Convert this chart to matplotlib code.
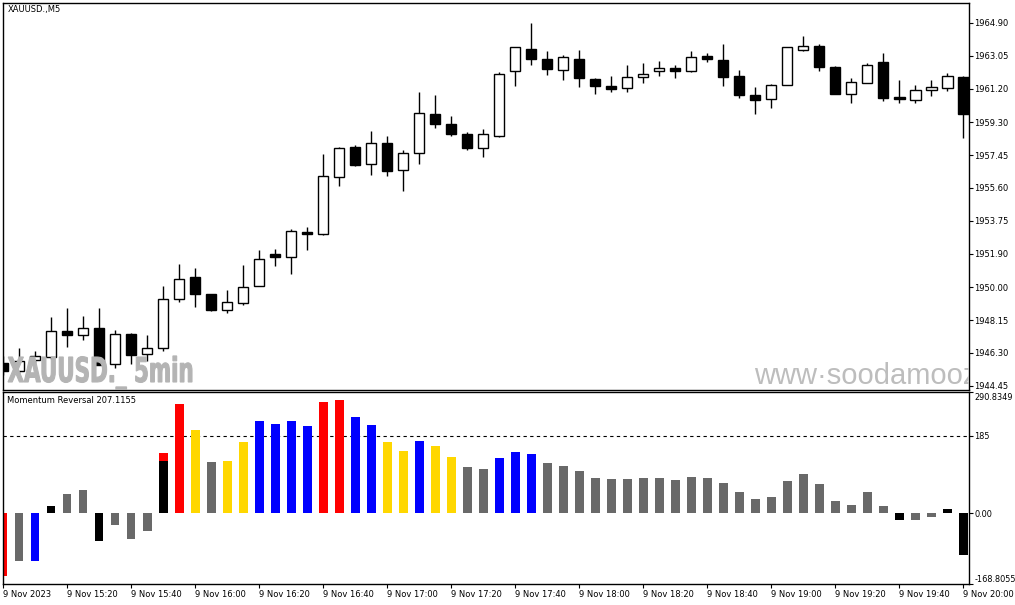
import numpy as np
import matplotlib
matplotlib.use("Agg")
import matplotlib.pyplot as plt
from matplotlib.textpath import TextPath
from matplotlib.patches import PathPatch
from matplotlib.font_manager import FontProperties
from matplotlib.transforms import Affine2D, ScaledTranslation

# XAUUSD M5 candles, 9 Nov 2023 15:00 -> 20:00
opens = [1945.76, 1945.31, 1945.93, 1946.06, 1947.52, 1947.33, 1947.72, 1945.69, 1947.39, 1946.26,
         1946.59, 1949.36, 1950.57, 1949.61, 1948.74, 1949.10, 1950.10, 1951.87, 1951.68, 1953.11,
         1952.98, 1956.23, 1957.91, 1956.97, 1958.14, 1956.59, 1957.56, 1959.78, 1959.21, 1958.65,
         1957.87, 1958.50, 1962.17, 1963.45, 1962.88, 1962.24, 1962.88, 1961.75, 1961.36, 1961.23,
         1961.85, 1962.19, 1962.37, 1962.17, 1963.01, 1962.83, 1961.92, 1960.85, 1960.61, 1961.40,
         1963.37, 1963.62, 1962.43, 1960.87, 1961.54, 1962.71, 1960.70, 1960.53, 1961.11, 1961.23,
         1961.87]
highs = [1946.10, 1946.57, 1946.39, 1948.31, 1948.82, 1948.40, 1948.82, 1947.57, 1947.40, 1947.33,
         1950.06, 1951.30, 1951.08, 1949.65, 1949.82, 1951.24, 1952.09, 1952.15, 1953.28, 1953.41,
         1957.52, 1957.89, 1958.02, 1958.82, 1958.53, 1957.74, 1961.02, 1960.85, 1959.66, 1958.76,
         1958.93, 1962.15, 1963.56, 1964.92, 1963.34, 1963.11, 1963.39, 1961.81, 1961.92, 1962.54,
         1962.64, 1962.77, 1962.54, 1963.34, 1963.22, 1963.73, 1962.26, 1961.30, 1961.45, 1963.56,
         1964.18, 1963.73, 1962.45, 1961.81, 1962.66, 1963.22, 1961.70, 1961.41, 1961.70, 1962.05,
         1961.91]
lows = [1945.03, 1945.14, 1945.76, 1945.95, 1946.63, 1947.05, 1945.60, 1945.46, 1945.69, 1945.84,
        1946.39, 1949.17, 1948.91, 1948.69, 1948.55, 1948.98, 1950.05, 1951.21, 1950.75, 1952.09,
        1952.95, 1955.72, 1956.84, 1956.35, 1956.29, 1955.44, 1956.97, 1958.95, 1958.55, 1957.76,
        1957.36, 1958.46, 1961.32, 1962.50, 1961.98, 1961.71, 1961.26, 1960.87, 1960.98, 1960.98,
        1961.54, 1961.88, 1961.77, 1962.15, 1962.67, 1961.37, 1960.66, 1959.74, 1960.08, 1961.38,
        1963.34, 1962.17, 1960.90, 1960.41, 1961.49, 1960.49, 1960.36, 1960.36, 1960.78, 1961.04,
        1958.44]
closes = [1945.27, 1945.82, 1946.10, 1947.52, 1947.33, 1947.72, 1945.63, 1947.39, 1946.20, 1946.59,
          1949.36, 1950.49, 1949.65, 1948.72, 1949.19, 1950.04, 1951.62, 1951.71, 1953.17, 1953.00,
          1956.27, 1957.85, 1956.89, 1958.14, 1956.57, 1957.56, 1959.83, 1959.23, 1958.66, 1957.87,
          1958.65, 1962.02, 1963.54, 1962.84, 1962.28, 1962.98, 1961.77, 1961.32, 1961.15, 1961.87,
          1962.02, 1962.36, 1962.17, 1962.98, 1962.84, 1961.83, 1960.81, 1960.58, 1961.40, 1963.54,
          1963.60, 1962.39, 1960.92, 1961.57, 1962.53, 1960.64, 1960.61, 1961.11, 1961.30, 1961.91,
          1959.74]

# Momentum Reversal histogram
momentum = [-150.0, -114.6, -114.6, 17.5, 46.4, 56.7, -66.6, -28.1, -61.8, -42.5,
            143.2, 260.2, 197.8, 123.3, 125.7, 171.3, 219.4, 212.9, 219.4, 207.4,
            265.1, 269.9, 229.0, 209.8, 171.3, 149.7, 173.7, 161.7, 135.3, 111.3,
            106.5, 132.9, 147.3, 142.5, 120.9, 113.7, 101.6, 84.8, 82.4, 82.4,
            84.8, 84.8, 80.0, 87.2, 84.8, 72.8, 51.2, 34.4, 39.2, 77.6,
            94.4, 70.4, 29.6, 19.9, 51.2, 17.5, -16.1, -16.1, -8.9, 10.3,
            -99.5]
mom_state = ["r", "g", "b", "k", "g", "g", "k", "g", "g", "g",
             "r", "r", "y", "g", "y", "y", "b", "b", "b", "b",
             "r", "r", "b", "b", "y", "y", "b", "y", "y", "g",
             "g", "b", "b", "b", "g", "g", "g", "g", "g", "g",
             "g", "g", "g", "g", "g", "g", "g", "g", "g", "g",
             "g", "g", "g", "g", "g", "g", "k", "g", "g", "k",
             "k"]
# second buffer drawn on top of the first one
cover_idx = [10]
cover_vals = [125.7]

level = 185
mom_top = 290.8349
mom_bottom = -168.8055

price_ticks = [1964.90, 1963.05, 1961.20, 1959.30, 1957.45, 1955.60,
               1953.75, 1951.90, 1950.00, 1948.15, 1946.30, 1944.45]
time_labels = ["9 Nov 2023", "9 Nov 15:20", "9 Nov 15:40", "9 Nov 16:00", "9 Nov 16:20",
               "9 Nov 16:40", "9 Nov 17:00", "9 Nov 17:20", "9 Nov 17:40", "9 Nov 18:00",
               "9 Nov 18:20", "9 Nov 18:40", "9 Nov 19:00", "9 Nov 19:20", "9 Nov 19:40",
               "9 Nov 20:00"]

palette = {"r": "#ff0000", "g": "#696969", "b": "#0000ff", "y": "#ffd700", "k": "#000000"}

plt.rcParams['font.family'] = ['DejaVu Sans']
plt.rcParams['axes.unicode_minus'] = False
W, H = 1015, 605
fig = plt.figure(figsize=(W / 100, H / 100), dpi=100)
fig.patch.set_facecolor("white")

left, right = 2.5, 969.0
ax1 = fig.add_axes([left / W, (H - 389.5) / H, (right - left) / W, 387 / H])
ax2 = fig.add_axes([left / W, (H - 584) / H, (right - left) / W, 192.5 / H])

x = np.arange(len(opens))
o = np.array(opens); c = np.array(closes)
hi = np.array(highs); lo = np.array(lows)
up = c >= o

# candles
ax1.vlines(x, lo, hi, color="black", lw=1, zorder=1)
body_lo = np.minimum(o, c)
body_h = np.maximum(np.abs(c - o), 0.08)
ax1.bar(x[up], body_h[up], bottom=body_lo[up], width=0.66, color="white",
        edgecolor="black", lw=1, zorder=2)
ax1.bar(x[~up], body_h[~up], bottom=body_lo[~up], width=0.66, color="black",
        edgecolor="black", lw=1, zorder=2)

ax1.set_xlim(-0.03, 60.36)
ax1.set_ylim(1944.24, 1966.05)
ax1.yaxis.tick_right()
ax1.set_yticks(price_ticks)
ax1.set_yticklabels([f"{t:.2f}" for t in price_ticks])
ax1.tick_params(axis="y", direction="out", length=3, width=0.8, pad=1, labelsize=6)
ax1.set_xticks([])

ax1.text(0.005, 0.982, "XAUUSD.,M5", transform=ax1.transAxes, fontsize=6,
         ha="left", va="center")

# condensed bold watermark: squeeze a text path to the reference width
tp = TextPath((0, 0), "XAUUSD._ 5min", size=1,
              prop=FontProperties(family="DejaVu Sans", weight="bold"))
ext = tp.get_extents()
sx = 184 / ext.width
sy = 25 / 0.729
wm_tr = Affine2D().scale(sx, sy).translate(8 - ext.x0 * sx, H - 382)
wm1 = PathPatch(tp, transform=wm_tr, facecolor="#b4b4b4", edgecolor="#b4b4b4",
                lw=0.8, zorder=3)
ax1.add_artist(wm1)

wm = ax1.text(0.7776, 0.014, "www\u00b7soodamooz.com", transform=ax1.transAxes,
              fontsize=21, family=["Liberation Sans", "DejaVu Sans"],
              color="#bdbdbd", ha="left", va="baseline", zorder=3)
wm.set_clip_on(True)

# indicator
ax2.bar(x, momentum, width=0.56, color=[palette[s] for s in mom_state], zorder=2)
ax2.bar(cover_idx, cover_vals, width=0.56, color="black", zorder=3)
ax2.axhline(level, color="black", lw=0.8, linestyle=(0, (3, 3)), zorder=1)
ax2.set_xlim(-0.03, 60.36)
ax2.set_ylim(mom_bottom, mom_top)
ax2.yaxis.tick_right()
ax2.set_yticks([mom_top, level, 0, mom_bottom])
ax2.set_yticklabels([f"{mom_top:.4f}", f"{level}", "0.00", f"{mom_bottom:.4f}"])
ax2.tick_params(axis="y", direction="out", length=3, width=0.8, pad=0.8, labelsize=5.9)
ylbls = ax2.get_yticklabels()
ylbls[0].set_va("top")
ylbls[0].set_transform(ylbls[0].get_transform() + ScaledTranslation(0, -2 / 100, fig.dpi_scale_trans))
ylbls[-1].set_va("bottom")
ax2.set_xticks(np.arange(0, len(opens), 4))
ax2.set_xticklabels(time_labels)
ax2.tick_params(axis="x", direction="out", length=3, width=0.8, pad=1.5, labelsize=6)
for lbl in ax2.get_xticklabels():
    lbl.set_ha("left")
ax2.text(0.005, 0.955, "Momentum Reversal 207.1155", transform=ax2.transAxes,
         fontsize=6, ha="left", va="center")

for ax in (ax1, ax2):
    for sp in ax.spines.values():
        sp.set_linewidth(1)
        sp.set_color("black")

fig.savefig("out.png", dpi=100, facecolor="white")
